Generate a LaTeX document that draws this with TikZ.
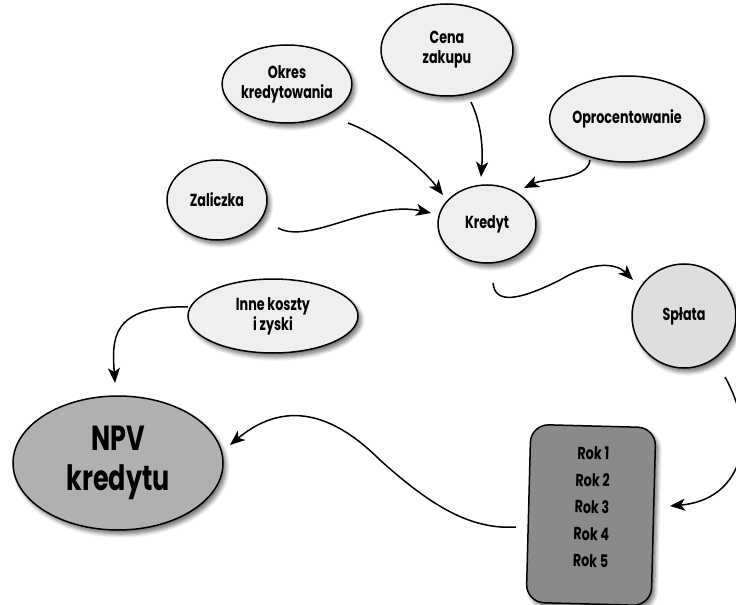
\documentclass[tikz,border=0pt]{standalone}
\usepackage{fontspec}
\setmainfont{Poppins}[FakeStretch=0.73]
\usetikzlibrary{shapes.geometric,arrows.meta,shadows.blur,calc}
\definecolor{bubfill}{HTML}{EFEFEF}
\definecolor{splfill}{HTML}{DEDEDE}
\definecolor{npvfill}{HTML}{B0B0B0}
\definecolor{rokfill}{HTML}{8A8A8A}
\tikzset{
  shad/.style={blur shadow={shadow xshift=3bp, shadow yshift=-4bp, shadow blur steps=6, shadow blur radius=4bp, shadow opacity=55}},
  bub/.style={ellipse, draw=black, line width=1.5bp, fill=bubfill, inner sep=0pt, align=center, shad,
    font=\bfseries\fontsize{17.5}{20}\selectfont},
  arr/.style={line width=1.5bp, -{Stealth[length=15bp,width=12bp,inset=4bp]}},
}
\begin{document}
\begin{tikzpicture}[x=1bp,y=-1bp]
\useasboundingbox (0,0) rectangle (736,605);
\node[bub, minimum width=114bp, minimum height=78bp] (okres) at (287,84) {Okres\\kredytowania};
\node[bub, minimum width=132bp, minimum height=92bp] (cena) at (447,50) {Cena\\zakupu};
\node[bub, minimum width=144bp, minimum height=86bp] (opro) at (627,119) {Oprocentowanie};
\node[bub, minimum width=100bp, minimum height=80bp] (zal) at (217,200) {Zaliczka};
\node[bub, minimum width=98bp, minimum height=78bp] (kred) at (487,224) {Kredyt};
\node[bub, circle, fill=splfill, minimum size=104bp] (splata) at (684,316) {Spłata};
\node[bub, minimum width=170bp, minimum height=74bp] (inne) at (273,316) {Inne koszty\\i zyski};
\node[bub, fill=npvfill, minimum width=210bp, minimum height=134bp,
  font=\bfseries\fontsize{35}{40}\selectfont] (npv) at (118,463) {NPV\\kredytu};
\node[draw=black, line width=1.5bp, fill=rokfill, rounded corners=18bp, shad,
  minimum width=125bp, minimum height=178bp, rotate=-1.5] (rok) at (591,515) {};
\node[rotate=-1.5, align=center, font=\bfseries\fontsize{17.5}{27}\selectfont] (rokt)
  at ($(rok.center)+(1,-8)$) {Rok 1\\Rok 2\\Rok 3\\Rok 4\\Rok 5};

\draw[arr] ($(okres)+(61,39)$) .. controls (380,135) and (420,165) .. ($(kred)+(-44,-29)$);
\draw[arr] ($(cena)+(24,52)$) .. controls (482,125) and (483,150) .. ($(kred)+(-6,-47)$);
\draw[arr] ($(opro)+(-37,41)$) .. controls (588,180) and (545,178) .. ($(kred)+(37,-36)$);
\draw[arr] ($(zal)+(61,28)$) .. controls (310,245) and (370,200) .. ($(kred)+(-56,-11)$);
\draw[arr] ($(kred)+(6,59)$) .. controls (495,305) and (520,300) .. (560,280)
  .. controls (590,262) and (615,262) .. ($(splata)+(-51,-36)$);
\draw[arr] ($(splata)+(41,61)$) .. controls (760,440) and (740,500) .. ($(rok)+(79,-9)$);
\draw[arr] ($(rok)+(-75,12)$) .. controls (470,530) and (430,505) .. (380,460)
  .. controls (340,420) and (290,395) .. ($(npv)+(112,-18)$);
\draw[arr] ($(inne)+(-85,-9)$) .. controls (110,305) and (112,340) .. ($(npv)+(-3,-80)$);
\end{tikzpicture}
\end{document}
